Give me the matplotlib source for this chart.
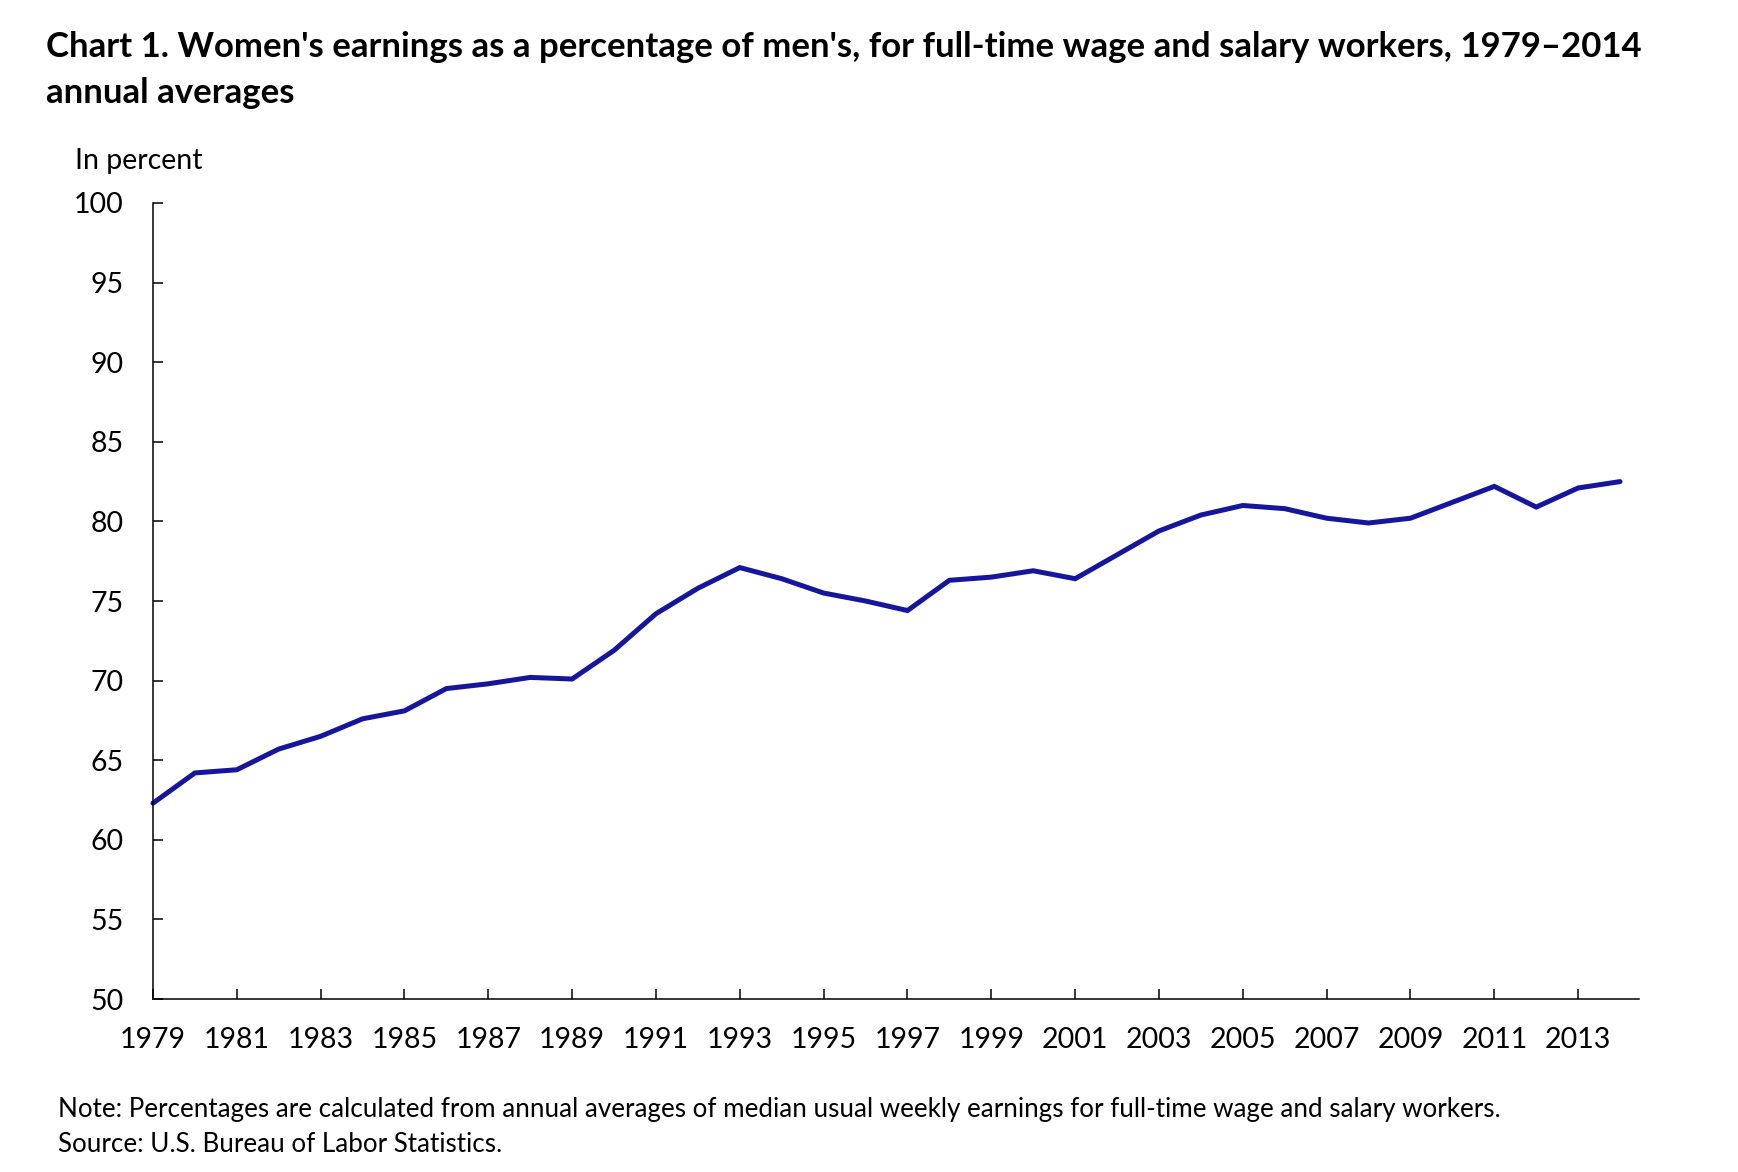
import matplotlib
matplotlib.use('Agg')
import matplotlib.pyplot as plt

years = list(range(1979, 2015))
ratio = [62.3, 64.2, 64.4, 65.7, 66.5, 67.6, 68.1, 69.5, 69.8, 70.2,
         70.1, 71.9, 74.2, 75.8, 77.1, 76.4, 75.5, 75.0, 74.4, 76.3,
         76.5, 76.9, 76.4, 77.9, 79.4, 80.4, 81.0, 80.8, 80.2, 79.9,
         80.2, 81.2, 82.2, 80.9, 82.1, 82.5]
x_ticks = list(range(1979, 2014, 2))
y_ticks = list(range(50, 101, 5))

plt.rcParams['font.family'] = ['Lato', 'DejaVu Sans']

fig = plt.figure(figsize=(17.38, 11.72), dpi=100)
ax = fig.add_axes([0.0880, 0.1476, 0.855, 0.6792])

ax.plot(years, ratio, color='#16169c', linewidth=3.6, solid_capstyle='round',
        solid_joinstyle='miter', clip_on=False)

ax.set_xlim(1979, 2014.45)
ax.set_ylim(50, 100)
ax.set_xticks(x_ticks)
ax.set_yticks(y_ticks)
ax.tick_params(axis='both', direction='in', length=7.5, width=1.1,
               labelsize=20.5, colors='black')
ax.tick_params(axis='x', pad=20)
ax.tick_params(axis='y', pad=21)
for s in ['top', 'right']:
    ax.spines[s].set_visible(False)
for s in ['left', 'bottom']:
    ax.spines[s].set_linewidth(1.1)

fig.text(46 / 1738, 1 - 47 / 1172,
         "Chart 1. Women's earnings as a percentage of men's, for full-time wage and salary workers, 1979\u20132014",
         fontsize=25, fontweight='bold', va='center', ha='left')
fig.text(46 / 1738, 1 - 93 / 1172, "annual averages",
         fontsize=25, fontweight='bold', va='center', ha='left')
fig.text(75 / 1738, 1 - 161 / 1172, "In percent", fontsize=20.5, va='center', ha='left')
fig.text(58 / 1738, 1 - 1110 / 1172,
         "Note: Percentages are calculated from annual averages of median usual weekly earnings for full-time wage and salary workers.",
         fontsize=18.7, va='center', ha='left')
fig.text(58 / 1738, 1 - 1144 / 1172, "Source: U.S. Bureau of Labor Statistics.",
         fontsize=18.7, va='center', ha='left')

fig.savefig('out.png', dpi=100, facecolor='white')
